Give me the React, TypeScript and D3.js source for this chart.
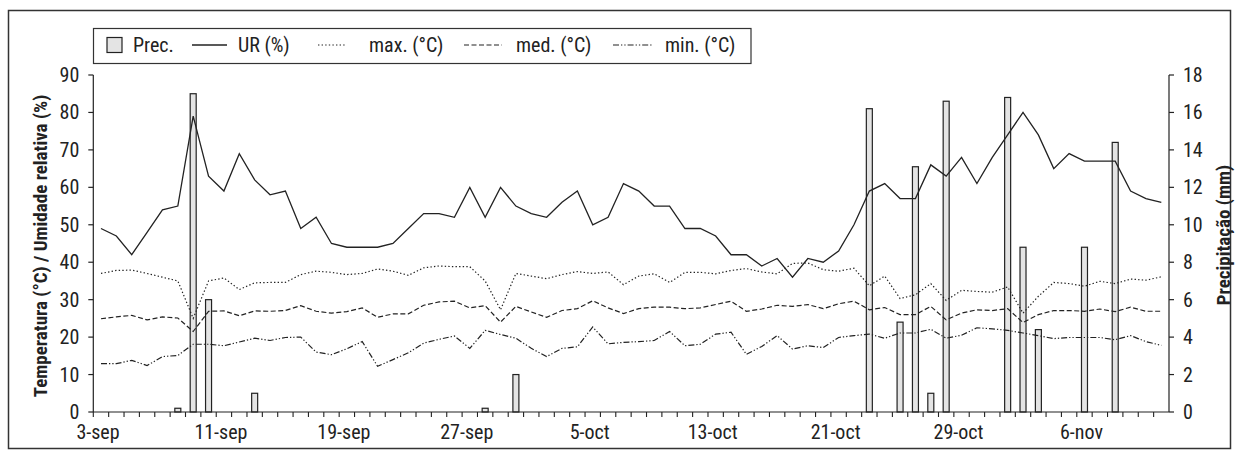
import React from "react";
import * as d3 from "d3";

// ---- data ----
const startDate = new Date(2000, 8, 3); // 3-sep
const dayCount = 70;
const days: number[] = d3.range(dayCount);

const tickLabels = ["3-sep", "11-sep", "19-sep", "27-sep", "5-oct", "13-oct", "21-oct", "29-oct", "6-nov"];
const tickLabelIdx = [0, 8, 16, 24, 32, 40, 48, 56, 64];

const UR = [
  49, 47, 42, 48, 54, 55, 79, 63, 59, 69,
  62, 58, 59, 49, 52, 45, 44, 44, 44, 45,
  49, 53, 53, 52, 60, 52, 60, 55, 53, 52,
  56, 59, 50, 52, 61, 59, 55, 55, 49, 49,
  47, 42, 42, 39, 41, 36, 41, 40, 43, 50,
  59, 61, 57, 57, 66, 63, 68, 61, 68, 74,
  80, 74, 65, 69, 67, 67, 67, 59, 57, 56,
];
const tMax = [
  37, 37.8, 37.9, 37, 36, 35, 25, 35, 35.8, 32.7,
  34.5, 34.6, 34.6, 36.7, 37.6, 37.3, 36.7, 37, 38.2, 37.6,
  36.5, 38.5, 39, 38.8, 38.8, 35, 27.3, 37, 36.3, 35.6,
  36.7, 37.5, 37, 37.4, 34, 36.3, 36.9, 34.6, 37.3, 37.3,
  36.9, 37.8, 38.3, 37.4, 36.9, 39.7, 39.8, 38, 37.6, 38.4,
  33.7, 36.3, 30.3, 31.3, 34.3, 29.8, 32.5, 32.2, 32, 33.4,
  26.4, 30.9, 34.6, 34.3, 33.6, 34.9, 34.3, 35.5, 35.2, 36.1,
];
const tMed = [
  24.9, 25.4, 25.8, 24.6, 25.4, 25.1, 21.5, 26.9, 27, 25.7,
  27, 26.9, 27.1, 28.4, 26.9, 26.4, 26.8, 27.8, 25.3, 26.2,
  26.2, 28.5, 29.4, 29.6, 27.8, 28.4, 24, 28.2, 26.7, 25.3,
  27.1, 27.6, 29.7, 27.8, 26.3, 27.6, 28, 28, 27.6, 27.8,
  28.7, 29.6, 26.9, 27.5, 28.5, 28.2, 28.7, 27.6, 28.9, 29.6,
  27.3, 27.9, 26, 26, 28.2, 24.6, 26.4, 27.3, 27.1, 27.6,
  23.9, 26, 27.1, 27.1, 26.9, 27.5, 26.8, 28, 26.9, 26.9,
];
const tMin = [
  12.9, 12.9, 13.8, 12.4, 14.8, 15.1, 18.1, 18.1, 17.7, 18.7,
  19.7, 19.1, 19.9, 20, 16, 15.3, 16.9, 18.8, 12.2, 14,
  15.8, 18.4, 19.4, 20.3, 17, 21.8, 20.7, 19.7, 17, 14.8,
  17, 17.4, 22.7, 18.2, 18.6, 18.8, 19.1, 21.5, 17.7, 18.1,
  20.8, 21.3, 15.4, 17.5, 20.4, 16.8, 17.7, 17.2, 19.9, 20.4,
  20.8, 19.7, 21.1, 21.1, 22.1, 19.7, 20.5, 22.5, 22.2, 21.8,
  21.1, 20.4, 19.6, 19.9, 19.9, 19.9, 19.3, 20.4, 18.8, 17.8,
];
const prec = [
  0, 0, 0, 0, 0, 0.2, 17, 6, 0, 0,
  1, 0, 0, 0, 0, 0, 0, 0, 0, 0,
  0, 0, 0, 0, 0, 0.2, 0, 2, 0, 0,
  0, 0, 0, 0, 0, 0, 0, 0, 0, 0,
  0, 0, 0, 0, 0, 0, 0, 0, 0, 0,
  16.2, 0, 4.8, 13.1, 1, 16.6, 0, 0, 0, 16.8,
  8.8, 4.4, 0, 0, 8.8, 0, 14.4, 0, 0, 0,
];
const leftTicks = [0, 10, 20, 30, 40, 50, 60, 70, 80, 90];
const rightTicks = [0, 2, 4, 6, 8, 10, 12, 14, 16, 18];

const FONT = "'Liberation Sans Narrow', 'Arial Narrow', 'Roboto Condensed', sans-serif";
const INK = "#222";

export default function App() {
  const W = 1239, H = 456;
  const left = 93.3, right = 1169, top = 75, bottom = 412;

  const x = d3.scaleBand<number>().domain(days).range([left, right]).padding(0);
  const cx = (i: number) => (x(i) as number) + x.bandwidth() / 2;
  const yL = d3.scaleLinear().domain([0, 90]).range([bottom, top]);
  const yR = d3.scaleLinear().domain([0, 18]).range([bottom, top]);

  const line = (arr: number[]) =>
    d3.line<number>().x((_, i) => cx(i)).y((v) => yL(v))(arr) as string;

  const series = [
    { data: UR, dash: "none", w: 1.3 },
    { data: tMax, dash: "1.4,2.2", w: 1.2 },
    { data: tMed, dash: "5,2.5", w: 1.2 },
    { data: tMin, dash: "6,2,1.3,2,1.3,2", w: 1.2 },
  ];

  const barW = 6;

  return (
    <div style={{ position: "absolute", left: 0, top: 0 }}>
      <svg width={W} height={H} style={{ display: "block", background: "#fff" }} fontFamily={FONT}>
        <rect x={8.5} y={10.5} width={1222} height={438} fill="none" stroke="#333" strokeWidth={1.5} />

        {/* bars */}
        {prec.map((p, i) =>
          p > 0 ? (
            <rect key={i} x={cx(i) - barW / 2} y={yR(p)} width={barW} height={yR(0) - yR(p)}
              fill="#e4e4e4" stroke={INK} strokeWidth={1.2} />
          ) : null
        )}

        {/* lines */}
        {series.map((s, k) => (
          <path key={k} d={line(s.data)} fill="none" stroke={INK} strokeWidth={s.w}
            strokeDasharray={s.dash === "none" ? undefined : s.dash} />
        ))}

        {/* left axis */}
        <line x1={left} x2={left} y1={top} y2={bottom} stroke={INK} strokeWidth={1.2} />
        {leftTicks.map((t) => (
          <g key={t}>
            <line x1={left - 5} x2={left} y1={yL(t)} y2={yL(t)} stroke={INK} strokeWidth={1.2} />
            <text x={left - 14} y={yL(t)} dy="0.35em" textAnchor="end" fontSize={20} fill={INK}>{t}</text>
          </g>
        ))}
        {/* right axis */}
        <line x1={right} x2={right} y1={top} y2={bottom} stroke={INK} strokeWidth={1.2} />
        {rightTicks.map((t) => (
          <g key={t}>
            <line x1={right} x2={right + 5} y1={yR(t)} y2={yR(t)} stroke={INK} strokeWidth={1.2} />
            <text x={right + 14} y={yR(t)} dy="0.35em" textAnchor="start" fontSize={20} fill={INK}>{t}</text>
          </g>
        ))}
        {/* x axis */}
        <line x1={left} x2={right} y1={bottom} y2={bottom} stroke={INK} strokeWidth={1.2} />
        {days.map((i) => (
          <line key={i} x1={x(i) as number} x2={x(i) as number} y1={bottom} y2={bottom + 5} stroke={INK} strokeWidth={1.1} />
        ))}
        {tickLabelIdx.map((i, k) => (
          <text key={k} x={cx(i) - 3} y={439} textAnchor="middle" fontSize={20} fill={INK}>{tickLabels[k]}</text>
        ))}

        {/* axis titles */}
        <text transform={`translate(47,246) rotate(-90)`} textAnchor="middle" fontSize={19} fontWeight="bold" fill={INK}>
          Temperatura (°C) / Umidade relativa (%)
        </text>
        <text transform={`translate(1230,235) rotate(-90)`} textAnchor="middle" fontSize={19} fontWeight="bold" fill={INK}>
          Precipitação (mm)
        </text>

        {/* legend */}
        <rect x={93.5} y={28.5} width={657.5} height={35} fill="#fff" stroke="#333" strokeWidth={1.2} />
        <rect x={107} y={37.5} width={15} height={15} fill="#e4e4e4" stroke={INK} strokeWidth={1.2} />
        <text x={133} y={52} fontSize={20} fill={INK}>Prec.</text>
        <line x1={192} x2={227} y1={45} y2={45} stroke={INK} strokeWidth={1.3} />
        <text x={238} y={52} fontSize={20} fill={INK}>UR (%)</text>
        <line x1={318} x2={346} y1={45} y2={45} stroke={INK} strokeWidth={1.2} strokeDasharray="1.4,2.2" />
        <text x={369} y={52} fontSize={20} fill={INK}>max. (°C)</text>
        <line x1={464} x2={502} y1={45} y2={45} stroke={INK} strokeWidth={1.2} strokeDasharray="5,2.5" />
        <text x={516} y={52} fontSize={20} fill={INK}>med. (°C)</text>
        <line x1={613} x2={652} y1={45} y2={45} stroke={INK} strokeWidth={1.2} strokeDasharray="6,2,1.3,2,1.3,2" />
        <text x={665} y={52} fontSize={20} fill={INK}>min. (°C)</text>
      </svg>
    </div>
  );
}
